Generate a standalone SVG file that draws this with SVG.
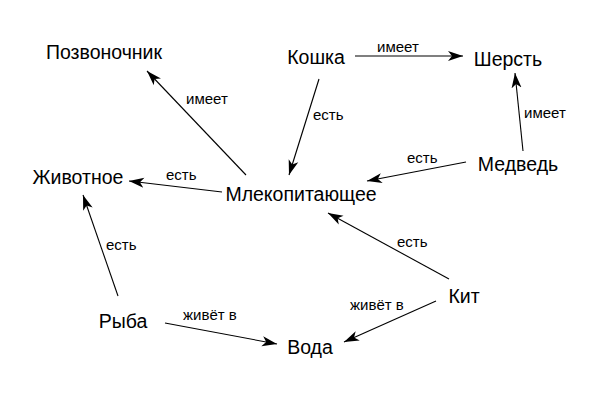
<svg xmlns="http://www.w3.org/2000/svg" width="600" height="400" viewBox="0 0 600 400">
<defs>
<marker id="arr" markerUnits="userSpaceOnUse" markerWidth="16" markerHeight="12" refX="15" refY="5" orient="auto" viewBox="0 0 16 10">
<path d="M0,0 L15,5 L0,10 L4,5 z" fill="#000"/>
</marker>
<style>
.n{font-family:"Liberation Sans",Arial,sans-serif;font-size:19.5px;fill:#000;text-anchor:middle}
.l{font-family:"Liberation Sans",Arial,sans-serif;font-size:15px;fill:#000}
.e{stroke:#000;stroke-width:1.1;fill:none;marker-end:url(#arr)}
</style>
</defs>
<rect width="600" height="400" fill="#fff"/>
<g id="edges">
<line class="e" x1="246" y1="175" x2="147" y2="71"/>
<line class="e" x1="222" y1="192" x2="129" y2="181"/>
<line class="e" x1="319" y1="79" x2="289" y2="175"/>
<line class="e" x1="355" y1="56" x2="463" y2="56"/>
<line class="e" x1="523" y1="151" x2="515" y2="73"/>
<line class="e" x1="466" y1="162" x2="367" y2="181"/>
<line class="e" x1="118" y1="296" x2="83" y2="195"/>
<line class="e" x1="165" y1="323" x2="277" y2="344"/>
<line class="e" x1="449" y1="279" x2="328" y2="213"/>
<line class="e" x1="436" y1="301" x2="344" y2="342"/>
<text class="l" x="186" y="104">имеет</text>
<text class="l" x="166" y="180">есть</text>
<text class="l" x="313" y="120">есть</text>
<text class="l" x="377" y="52">имеет</text>
<text class="l" x="524" y="118">имеет</text>
<text class="l" x="407" y="163">есть</text>
<text class="l" x="106" y="250">есть</text>
<text class="l" x="183" y="320">живёт в</text>
<text class="l" x="397" y="247">есть</text>
<text class="l" x="350" y="310">живёт в</text>
</g>
<g id="n-pozv"><text class="n" x="104" y="59">Позвоночник</text></g>
<g id="n-koshka"><text class="n" x="316" y="64">Кошка</text></g>
<g id="n-sherst"><text class="n" x="508" y="66">Шерсть</text></g>
<g id="n-medved"><text class="n" x="518" y="171">Медведь</text></g>
<g id="n-mlek"><text class="n" x="301" y="201">Млекопитающее</text></g>
<g id="n-zhiv"><text class="n" x="78" y="184">Животное</text></g>
<g id="n-ryba"><text class="n" x="123" y="328">Рыба</text></g>
<g id="n-voda"><text class="n" x="310" y="354">Вода</text></g>
<g id="n-kit"><text class="n" x="464" y="303">Кит</text></g>
</svg>
